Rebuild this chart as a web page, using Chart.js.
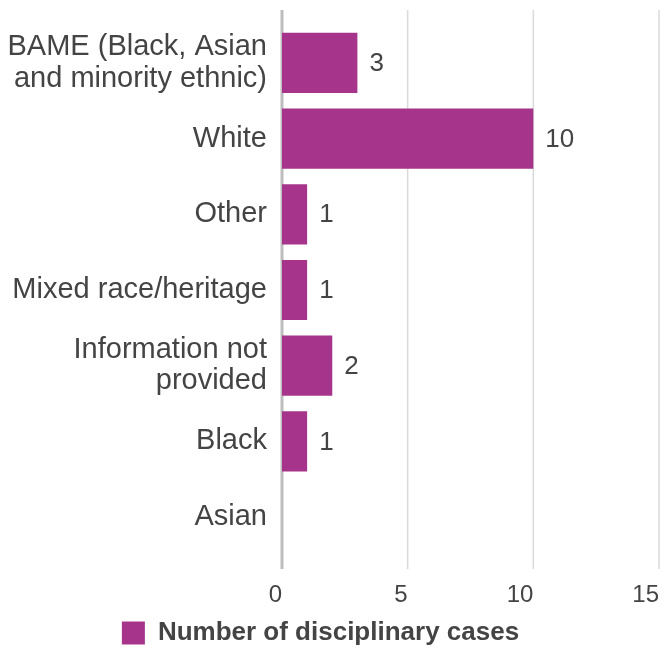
<!DOCTYPE html>
<html>
<head>
<meta charset="utf-8">
<script src="https://cdn.jsdelivr.net/npm/chart.js@4"></script>
<style>
  html, body { margin: 0; padding: 0; background: #fff; overflow: hidden; }
</style>
</head>
<body>
<canvas id="casesChart" width="662" height="649"></canvas>
<script>
// categories and values
var categories = [
    ['BAME (Black, Asian', 'and minority ethnic)'],
    'White',
    'Other',
    'Mixed race/heritage',
    ['Information not', 'provided'],
    'Black',
    'Asian'
];
var caseCounts = [3, 10, 1, 1, 2, 1, 0];
var xTicks = [0, 5, 10, 15];
var seriesName = 'Number of disciplinary cases';

var barColor = '#a6348a';
var textColor = '#444444';
var fontFamily = '"Liberation Sans", Arial, Helvetica, sans-serif';

// luoi doc (keo dai tren/duoi vung ve) + so tren dau thanh
var extrasPlugin = {
    id: 'extras',
    afterLayout: function (chart) {
        // legend hoi lech trai trong hinh goc
        chart.legend.left -= 9;
        chart.legend.right -= 9;
    },
    beforeDatasetsDraw: function (chart) {
        var ctx = chart.ctx, area = chart.chartArea, xs = chart.scales.x;
        ctx.save();
        xTicks.forEach(function (t) {
            var px = xs.getPixelForValue(t);
            ctx.strokeStyle = t === 0 ? '#bdbdbd' : '#dadada';
            ctx.lineWidth = t === 0 ? 3 : 1.5;
            ctx.beginPath();
            ctx.moveTo(px, area.top - 15);
            ctx.lineTo(px, area.bottom + 14);
            ctx.stroke();
        });
        ctx.restore();
    },
    afterDatasetsDraw: function (chart) {
        var ctx = chart.ctx;
        var meta = chart.getDatasetMeta(0);
        ctx.save();
        ctx.fillStyle = textColor;
        ctx.font = '26px ' + fontFamily;
        ctx.textAlign = 'left';
        ctx.textBaseline = 'middle';
        meta.data.forEach(function (bar, i) {
            if (!caseCounts[i]) return;
            ctx.fillText(String(caseCounts[i]), bar.x + 12, bar.y + 1);
        });
        ctx.restore();
    }
};

var ctx = document.getElementById('casesChart').getContext('2d');
var casesChart = new Chart(ctx, {
    type: 'bar',
    data: {
        labels: categories,
        datasets: [{
            label: seriesName,
            data: caseCounts,
            backgroundColor: barColor,
            borderWidth: 0,
            categoryPercentage: 1,
            barPercentage: 0.795
        }]
    },
    options: {
        indexAxis: 'y',
        responsive: false,
        animation: false,
        layout: { padding: { top: 25, left: 0, right: 3, bottom: -7 } },
        scales: {
            x: {
                min: 0,
                max: 15,
                afterBuildTicks: function (scale) {
                    scale.ticks = xTicks.map(function (v) { return { value: v }; });
                },
                afterFit: function (scale) {
                    scale.height = 65;
                    scale.paddingLeft = 0;
                    scale.paddingRight = 0;
                },
                grid: { display: false, drawTicks: false },
                border: { display: false },
                ticks: {
                    color: textColor,
                    font: { family: fontFamily, size: 24 },
                    padding: 26,
                    align: 'end',
                    maxRotation: 0
                }
            },
            y: {
                afterFit: function (scale) {
                    scale.width = 282;
                    scale.paddingTop = 0;
                    scale.paddingBottom = 0;
                },
                grid: { display: false, drawTicks: false },
                border: { display: false },
                ticks: {
                    color: textColor,
                    font: { family: fontFamily, size: 29, lineHeight: 1.08 },
                    padding: 15
                }
            }
        },
        plugins: {
            legend: {
                position: 'bottom',
                labels: {
                    color: textColor,
                    font: { family: fontFamily, size: 26, weight: 'bold', lineHeight: 1 },
                    boxWidth: 23,
                    boxHeight: 23,
                    padding: 0
                }
            },
            tooltip: { enabled: false }
        }
    },
    plugins: [extrasPlugin]
});
</script>
</body>
</html>
